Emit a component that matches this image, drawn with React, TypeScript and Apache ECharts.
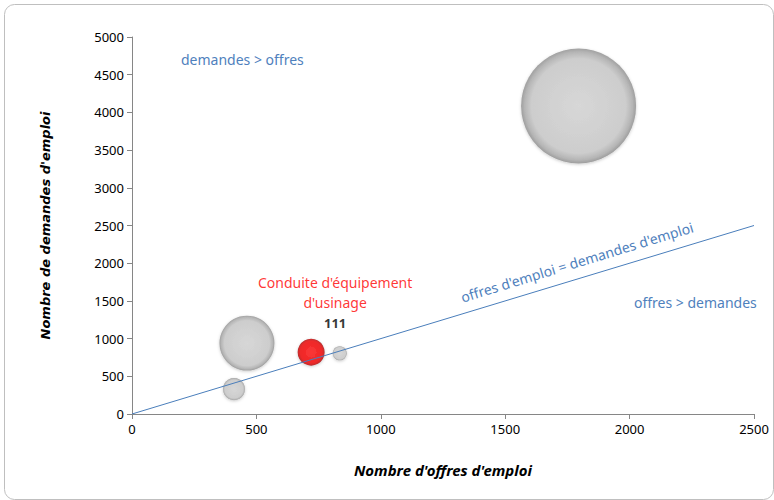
import React, { useEffect, useRef } from "react";
import * as echarts from "echarts";

// Data
const offres = [410, 462, 720, 835, 1795];
const demandes = [330, 940, 820, 805, 4085];
const tailles = [74, 460, 111, 30, 2014];
const metierIndex = 2;
const metierNom = "Conduite d'équipement\nd'usinage";
const diagonale = [
  [0, 0],
  [2500, 2500],
];
const labelDiagonale = "offres d'emploi = demandes d'emploi";
const labelHaut = "demandes > offres";
const labelBas = "offres > demandes";
const titreX = "Nombre d'offres d'emploi";
const titreY = "Nombre de demandes d'emploi";

const FONT = "'Noto Sans', sans-serif";

export default function App() {
  const ref = useRef<HTMLDivElement>(null);
  useEffect(() => {
    if (!ref.current) return;
    const chart = echarts.init(ref.current, null, { renderer: "svg" });
    const sizeOf = (v: number) => 27 * Math.sqrt(v / 111);
    const grayFill = new echarts.graphic.RadialGradient(0.5, 0.5, 0.5, [
      { offset: 0, color: "#d4d4d4" },
      { offset: 0.82, color: "#c8c8c8" },
      { offset: 0.94, color: "#aaaaaa" },
      { offset: 1, color: "#8c8c8c" },
    ]);
    const redFill = new echarts.graphic.RadialGradient(0.5, 0.5, 0.5, [
      { offset: 0, color: "#ff1010" },
      { offset: 0.8, color: "#f00000" },
      { offset: 0.94, color: "#c80000" },
      { offset: 1, color: "#960000" },
    ]);
    const grayData = offres
      .map((x, i) => ({ value: [x, demandes[i], tailles[i]] }))
      .filter((_, i) => i !== metierIndex);
    const redData = [
      {
        value: [offres[metierIndex], demandes[metierIndex], tailles[metierIndex]],
      },
    ];
    const plain = (v: number) => String(v);
    chart.setOption({
      animation: false,
      backgroundColor: "#ffffff",
      textStyle: { fontFamily: FONT },
      grid: { left: 132, right: 20, top: 37, bottom: 86 },
      xAxis: {
        type: "value",
        min: 0,
        max: 2500,
        interval: 500,
        axisLine: { show: true, lineStyle: { color: "#868686", width: 1 } },
        axisTick: { show: true, length: 5, lineStyle: { color: "#868686" } },
        splitLine: { show: false },
        axisLabel: { color: "#000", fontSize: 13, margin: 8, fontFamily: FONT, formatter: plain },
        name: titreX,
        nameLocation: "middle",
        nameGap: 48,
        nameTextStyle: {
          color: "#000",
          fontSize: 15,
          fontWeight: "bold",
          fontStyle: "italic",
          fontFamily: FONT,
        },
      },
      yAxis: {
        type: "value",
        min: 0,
        max: 5000,
        interval: 500,
        axisLine: { show: true, lineStyle: { color: "#868686", width: 1 } },
        axisTick: { show: true, length: 5, lineStyle: { color: "#868686" } },
        splitLine: { show: false },
        axisLabel: { color: "#000", fontSize: 13, margin: 8, fontFamily: FONT, formatter: plain },
        name: titreY,
        nameLocation: "middle",
        nameGap: 80,
        nameTextStyle: {
          color: "#000",
          fontSize: 13,
          fontWeight: "bold",
          fontStyle: "italic",
          fontFamily: "'DejaVu Sans', sans-serif",
        },
      },
      series: [
        {
          type: "scatter",
          data: grayData,
          symbolSize: (v: number[]) => sizeOf(v[2]),
          itemStyle: {
            color: grayFill,
            shadowColor: "rgba(0,0,0,0.25)",
            shadowBlur: 3,
            shadowOffsetY: 1,
          },
          z: 2,
        },
        {
          type: "scatter",
          data: redData,
          symbolSize: (v: number[]) => sizeOf(v[2]),
          itemStyle: {
            color: redFill,
            shadowColor: "rgba(0,0,0,0.25)",
            shadowBlur: 3,
            shadowOffsetY: 1,
          },
          label: {
            show: true,
            position: "top",
            distance: 5,
            offset: [24, 0],
            align: "center",
            formatter: (p: any) =>
              metierNom
                .split("\n")
                .map((l) => `{a|${l}}`)
                .join("\n") + `\n{b|${p.value[2]}}`,
            rich: {
              a: { color: "#ff0000", fontSize: 14, lineHeight: 20, fontFamily: FONT },
              b: {
                color: "#000000",
                fontSize: 13,
                fontWeight: "bold",
                lineHeight: 21,
                fontFamily: FONT,
              },
            },
          },
          z: 3,
        },
        {
          type: "line",
          data: diagonale,
          symbol: "none",
          lineStyle: { color: "#4a7ebb", width: 1 },
          z: 4,
        },
      ],
      graphic: [
        {
          type: "rect",
          left: 2,
          top: 2,
          shape: { x: 0, y: 0, width: 769, height: 495, r: 10 },
          style: { fill: "none", stroke: "#bfbfbf", lineWidth: 1 },
          silent: true,
        },
        {
          type: "text",
          x: 181,
          y: 59,
          style: {
            text: labelHaut,
            fill: "#4f81bd",
            fontSize: 14,
            fontFamily: FONT,
            verticalAlign: "middle",
          },
        },
        {
          type: "text",
          x: 634,
          y: 302,
          style: {
            text: labelBas,
            fill: "#4f81bd",
            fontSize: 14,
            fontFamily: FONT,
            verticalAlign: "middle",
          },
        },
        {
          type: "text",
          x: 577,
          y: 262,
          rotation: (17 * Math.PI) / 180,
          style: {
            text: labelDiagonale,
            fill: "#4f81bd",
            fontSize: 14,
            fontFamily: FONT,
            align: "center",
            verticalAlign: "middle",
          },
        },
      ],
    });
    return () => chart.dispose();
  }, []);
  return (
    <div
      ref={ref}
      style={{ position: "fixed", left: 0, top: 0, width: 774, height: 500 }}
    />
  );
}
